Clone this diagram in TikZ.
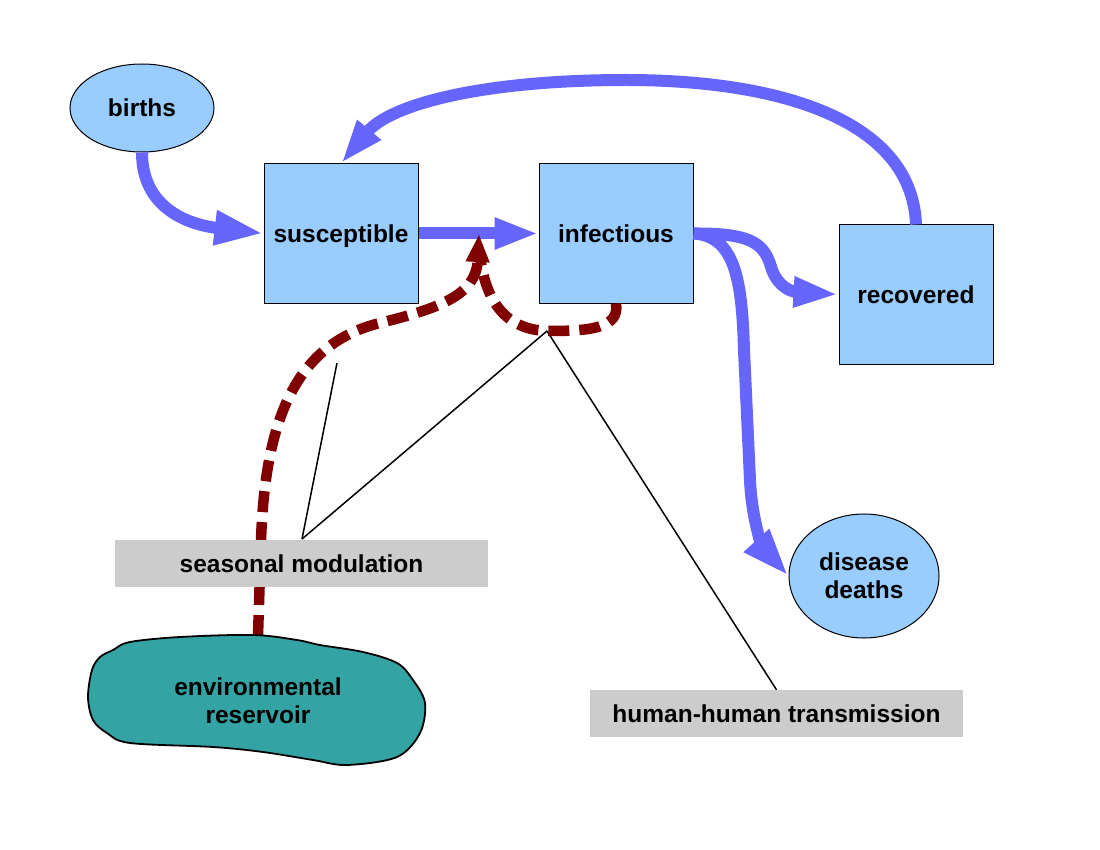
\documentclass[tikz,border=0pt]{standalone}
\usepackage{fontspec}
\setmainfont{Liberation Sans}
\usetikzlibrary{arrows.meta,shapes.geometric}
\definecolor{boxblue}{HTML}{99CCFF}
\definecolor{flowblue}{HTML}{6666FF}
\definecolor{darkred}{HTML}{800000}
\definecolor{labelgrey}{HTML}{CCCCCC}
\definecolor{reservoirteal}{HTML}{33A3A3}
\begin{document}
\begin{tikzpicture}[x=1pt,y=-1pt,
  every node/.style={font=\fontsize{24.5}{28}\selectfont\bfseries, align=center},
  compartment/.style={draw=black, line width=1pt, fill=boxblue, minimum width=154pt, minimum height=139pt, inner sep=0pt, text depth=0pt},
  roundbox/.style={draw=black, line width=1pt, fill=boxblue, ellipse, inner sep=0pt},
  notebox/.style={fill=labelgrey, inner sep=0pt, minimum width=373pt, minimum height=47pt},
  flow/.style={draw=flowblue, line width=12pt},
  reservoirflow/.style={draw=darkred, line width=10.5pt, dash pattern=on 21pt off 10pt},
  pointer/.style={draw=black, line width=1.5pt},
  reservoirshape/.style={draw=black, line width=1.8pt, fill=reservoirteal}
]
\path[use as bounding box, fill=white] (0,0) rectangle (1100,850);

% compartments
\node[compartment] (susceptible) at (341,233.5) {susceptible};
\node[compartment] (infectious) at (616,233.5) {infectious};
\node[compartment] (recovered) at (916,294.5) {recovered};
\node[roundbox, minimum width=144pt, minimum height=88pt] (births) at (142,108) {births};
\node[roundbox, minimum width=150pt, minimum height=124pt] (deaths) at (864,576) {disease\\deaths};

% coordinates
\coordinate (restop) at (258,636);
\coordinate (jointip) at (479,234);
\coordinate (seasonalpin) at (302,539);
\coordinate (sharedpin) at (547,331);
\coordinate (shortpin) at (337,363);

% blue flows
\draw[flow, -{Triangle[length=49pt,width=32pt]}] (births.south) .. controls (142,215) and (200,226) .. (susceptible.west);
\draw[flow, -{Triangle[length=44pt,width=29pt]}] (susceptible.east) -- (infectious.west);
\draw[flow, -{Triangle[length=44pt,width=28pt]}] (recovered.north) .. controls (912,120) and (780,80) .. (626,80) .. controls (480,80) and (390,105) .. (susceptible.north);
\draw[flow, -{Triangle[length=45pt,width=28pt]}] (infectious.east) .. controls (755,233) and (765,245) .. (772,270) .. controls (780,290) and (795,292) .. (recovered.west);
\draw[flow, -{Triangle[length=48pt,width=31pt]}] (infectious.east) .. controls (735,236) and (742,280) .. (744,350) -- (750,480) .. controls (752,525) and (765,550) .. (deaths.west);

% pointer lines
\draw[pointer] (seasonalpin) -- (shortpin);
\draw[pointer] (seasonalpin) -- (sharedpin);
\node[notebox] (humanhuman) at (776.5,713.5) {human-human transmission};
\draw[pointer] (sharedpin) -- (humanhuman.north);

% dashed transmission routes
\draw[reservoirflow] (infectious.south) .. controls (620,328) and (590,331) .. (550,331) .. controls (505,331) and (485,300) .. (480,255);
\draw[reservoirflow, -{Triangle[length=28pt,width=22pt]}] (restop) -- (261,540) .. controls (265,430) and (290,345) .. (380,323) .. controls (440,308) and (476,295) .. (jointip);

% labels
\node[notebox] (seasonal) at (301.5,563.5) {seasonal modulation};

% environmental reservoir
\draw[reservoirshape] plot[smooth cycle, tension=0.55] coordinates {(113,650) (130,642) (180,637) (253,635) (297,640) (320,645) (363,652) (397,663) (413,680) (425,703) (420,733) (397,757) (347,765) (313,760) (263,752) (213,747) (130,743) (107,733) (93,720) (88,697) (92,670) (100,657)};
\node (reservoir) at (258,701) {environmental\\reservoir};
\end{tikzpicture}
\end{document}
